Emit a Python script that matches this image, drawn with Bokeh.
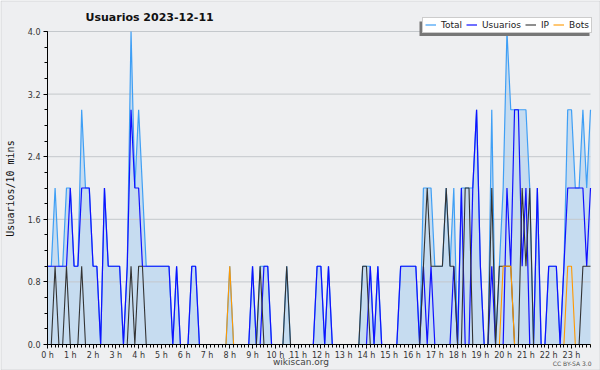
import numpy as np
from bokeh.plotting import figure
from bokeh.models import (Range1d, FixedTicker, Label, Legend, LegendItem, LinearAxis,
                          BoxAnnotation, ColumnDataSource, PrintfTickFormatter)
from bokeh.embed import file_html
from bokeh.resources import INLINE

# ---- data: one value per 10-minute slot (144 slots) ----
usuarios = [1, 1, 1, 1, 1, 1, 2, 1, 1, 2, 2, 2, 1, 1, 0, 2, 1, 1, 1, 1, 0, 1, 3, 2,
            2, 1, 1, 1, 1, 1, 1, 1, 1, 0, 1, 0, 0, 0, 1, 1, 0, 0, 0, 0, 0, 0, 0, 0,
            0, 0, 0, 0, 0, 0, 1, 0, 0, 1, 1, 0, 0, 0, 0, 0, 0, 0, 0, 0, 0, 0, 0, 1,
            1, 0, 1, 0, 0, 0, 0, 0, 0, 0, 0, 0, 0, 1, 0, 1, 0, 0, 0, 0, 0, 1, 1, 1,
            1, 1, 0, 1, 0, 1, 0, 0, 0, 0, 0, 1, 0, 2, 0, 0, 2, 3, 1, 0, 0, 1, 0, 0,
            0, 2, 1, 3, 3, 1, 2, 0, 0, 2, 0, 0, 1, 1, 1, 0, 1, 2, 2, 2, 2, 2, 1, 2]
ip = [0, 0, 1, 0, 0, 1, 0, 0, 0, 1, 0, 0, 0, 0, 0, 0, 0, 0, 0, 0, 0, 0, 1, 0,
      1, 1, 0, 0, 0, 0, 0, 0, 0, 0, 0, 0, 0, 0, 0, 0, 0, 0, 0, 0, 0, 0, 0, 0,
      0, 0, 0, 0, 0, 0, 0, 0, 1, 0, 0, 0, 0, 0, 0, 1, 0, 0, 0, 0, 0, 0, 0, 0,
      0, 0, 0, 0, 0, 0, 0, 0, 0, 0, 0, 1, 1, 0, 0, 0, 0, 0, 0, 0, 0, 0, 0, 0,
      0, 0, 0, 1, 2, 1, 1, 1, 1, 2, 1, 1, 0, 0, 2, 2, 0, 0, 0, 0, 0, 2, 0, 1,
      1, 1, 1, 0, 0, 2, 1, 2, 0, 0, 0, 0, 0, 0, 0, 0, 0, 0, 0, 0, 0, 1, 1, 1]
bots = [0, 0, 0, 0, 0, 0, 0, 0, 0, 0, 0, 0, 0, 0, 0, 0, 0, 0, 0, 0, 0, 0, 0, 0,
        0, 0, 0, 0, 0, 0, 0, 0, 0, 0, 0, 0, 0, 0, 0, 0, 0, 0, 0, 0, 0, 0, 0, 0,
        1, 0, 0, 0, 0, 0, 0, 0, 0, 0, 0, 0, 0, 0, 0, 0, 0, 0, 0, 0, 0, 0, 0, 0,
        0, 0, 0, 0, 0, 0, 0, 0, 0, 0, 0, 0, 0, 0, 0, 0, 0, 0, 0, 0, 0, 0, 0, 0,
        0, 0, 0, 0, 0, 0, 0, 0, 0, 0, 0, 0, 0, 0, 0, 0, 0, 0, 0, 0, 0, 0, 0, 0,
        1, 1, 1, 0, 0, 0, 0, 0, 0, 0, 0, 0, 0, 0, 0, 0, 0, 1, 1, 0, 0, 0, 0, 0]
total = [1, 1, 2, 1, 1, 2, 2, 1, 1, 3, 2, 2, 1, 1, 0, 2, 1, 1, 1, 1, 0, 1, 4, 2,
         3, 2, 1, 1, 1, 1, 1, 1, 1, 0, 1, 0, 0, 0, 1, 1, 0, 0, 0, 0, 0, 0, 0, 0,
         1, 0, 0, 0, 0, 0, 1, 0, 1, 1, 1, 0, 0, 0, 0, 1, 0, 0, 0, 0, 0, 0, 0, 1,
         1, 0, 1, 0, 0, 0, 0, 0, 0, 0, 0, 1, 1, 1, 0, 1, 0, 0, 0, 0, 0, 1, 1, 1,
         1, 1, 0, 2, 2, 2, 1, 1, 1, 2, 1, 2, 0, 2, 2, 2, 2, 3, 1, 0, 0, 3, 0, 1,
         2, 4, 3, 3, 3, 3, 3, 2, 0, 2, 0, 0, 1, 1, 1, 0, 1, 3, 3, 2, 2, 3, 2, 3]
hour_labels = ["0 h", "1 h", "2 h", "3 h", "4 h", "5 h", "6 h", "7 h", "8 h", "9 h",
               "10 h", "11 h", "12 h", "13 h", "14 h", "15 h", "16 h", "17 h",
               "18 h", "19 h", "20 h", "21 h", "22 h", "23 h"]
y_ticks = [0.0, 0.8, 1.6, 2.4, 3.2, 4.0]
series_names = ["Total", "Usuarios", "IP", "Bots"]
title_text = "Usuarios  2023-12-11"
y_label = "Usuarios/10 mins"

hours = np.arange(len(total)) / 6.0
src = ColumnDataSource(dict(x=hours, total=total, usuarios=usuarios, ip=ip, bots=bots,
                            zero=np.zeros(len(total))))

BG = "#eeeff1"
W, H = 600, 370
X1 = (len(total) - 1) / 6.0
Y1 = 4.0
FL, FR, FT, FB = 47, 590, 31, 344   # data-area edges in canvas pixels
KX = X1 / (FR - FL)
KY = Y1 / (FB - FT)

def dx(c):
    return (c - FL) * KX

def dy(c):
    return (FB - c) * KY

# the frame covers the whole canvas; ranges are extended so that the data area
# sits at FL..FR / FT..FB
p = figure(width=W, height=H,
           x_range=Range1d(dx(0), dx(W)), y_range=Range1d(dy(H), dy(0)),
           output_backend="svg", toolbar_location=None,
           min_border=0, min_border_left=0, min_border_right=0,
           min_border_top=0, min_border_bottom=0,
           background_fill_color=BG, border_fill_color=BG,
           outline_line_color=None, title_location=None,
           x_axis_location=None, y_axis_location=None)
p.xgrid.visible = False
p.ygrid.visible = False

# ---- area + grid ----
p.varea(x="x", y1="zero", y2="total", source=src, fill_color="#c6dcf0", fill_alpha=1.0)
p.segment(x0=[0.0] * len(y_ticks[1:]), x1=[X1] * len(y_ticks[1:]), y0=y_ticks[1:],
          y1=y_ticks[1:], line_color="#c4c8cc", line_width=1)

# ---- lines ----
r_total = p.line("x", "total", source=src, line_color="#3f9ff5", line_width=1.2)
r_usr = p.line("x", "usuarios", source=src, line_color="#1010ff", line_width=1.2)
r_ip = p.line("x", "ip", source=src, line_color="#333333", line_width=1.1)
r_bots = p.line("x", "bots", source=src, line_color="#ff9900", line_width=1.1)

# ---- axes fixed at the data origin ----
xax = LinearAxis(fixed_location=0, bounds=(0, X1))
xax.ticker = FixedTicker(ticks=list(range(24)), minor_ticks=list(hours))
xax.major_label_overrides = {h: lab for h, lab in enumerate(hour_labels)}
xax.major_label_text_font = "DejaVu Sans"
xax.major_label_text_font_size = "8px"
xax.major_label_text_color = "#333333"
xax.major_label_standoff = 2
xax.major_tick_out = 4
xax.major_tick_in = 0
xax.minor_tick_out = 3
xax.minor_tick_in = 0
xax.axis_line_color = "black"
xax.major_tick_line_color = "black"
xax.minor_tick_line_color = "black"
p.add_layout(xax, "below")

yax = LinearAxis(fixed_location=0, bounds=(0, Y1))
yax.ticker = FixedTicker(ticks=y_ticks, minor_ticks=[k * 0.2 for k in range(21)])
yax.formatter = PrintfTickFormatter(format="%.1f")
yax.major_label_text_font = "DejaVu Sans"
yax.major_label_text_font_size = "8px"
yax.major_label_text_color = "#333333"
yax.major_label_standoff = 3
yax.major_tick_out = 4
yax.major_tick_in = 0
yax.minor_tick_out = 3
yax.minor_tick_in = 0
yax.axis_line_color = "black"
yax.major_tick_line_color = "black"
yax.minor_tick_line_color = "black"
p.add_layout(yax, "left")

p.add_layout(Label(x=dx(10), y=dy(188), text=y_label, angle=np.pi / 2,
                   text_font="DejaVu Sans Mono", text_font_size="10px",
                   text_align="center", text_baseline="middle", text_color="#111111"))

# ---- legend with drop shadow ----
p.add_layout(BoxAnnotation(left=dx(419), right=dx(589), top=dy(21), bottom=dy(35.5),
                           fill_color="#777777", fill_alpha=1, line_color=None))
legend = Legend(items=[LegendItem(label=n, renderers=[r]) for n, r in
                       zip(series_names, [r_total, r_usr, r_ip, r_bots])],
                orientation="horizontal", location=(422, H - 32.5),
                border_line_color="#999999", background_fill_color="white",
                background_fill_alpha=1, padding=2, spacing=4, margin=0,
                glyph_width=11, glyph_height=9, label_height=9, label_width=0,
                label_standoff=5, label_text_font="DejaVu Sans",
                label_text_font_size="9px", label_text_color="#222222")
p.add_layout(legend, "center")

# ---- texts ----
p.add_layout(Label(x=dx(85), y=dy(16.5), text=title_text, text_font="DejaVu Sans",
                   text_font_style="bold", text_font_size="11px", text_align="left",
                   text_baseline="middle", text_color="#111111"))
p.add_layout(Label(x=dx(300.5), y=dy(361), text="wikiscan.org", text_font="DejaVu Sans",
                   text_font_size="9px", text_align="center", text_baseline="middle",
                   text_color="#444444"))
p.add_layout(Label(x=dx(591), y=dy(363), text="CC BY-SA 3.0", text_font="DejaVu Sans",
                   text_font_size="6px", text_align="right", text_baseline="middle",
                   text_color="#555555"))

# ---- outer border of the image ----
p.add_layout(BoxAnnotation(left=dx(0.5), right=dx(W - 0.5), top=dy(0.5), bottom=dy(H - 0.5),
                           fill_alpha=0, line_color="#a0a0a0", line_width=1))

open("out.html", "w").write(file_html(p, INLINE))
